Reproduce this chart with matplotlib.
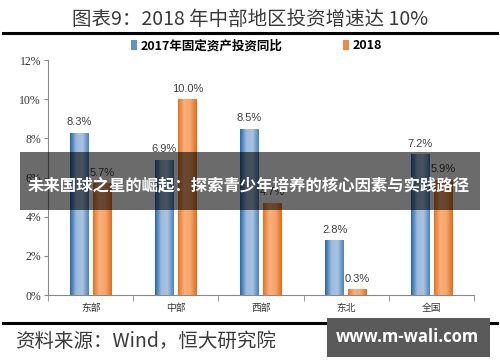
import numpy as np
import matplotlib
matplotlib.use("Agg")
import matplotlib.pyplot as plt
from matplotlib.patches import Rectangle
from matplotlib.colors import LinearSegmentedColormap
from matplotlib.lines import Line2D

plt.rcParams['font.family'] = ['Noto Sans CJK SC', 'DejaVu Sans']

categories = ["东部", "中部", "西部", "东北", "全国"]
growth_2017 = [8.3, 6.9, 8.5, 2.8, 7.2]
growth_2018 = [5.7, 10.0, 4.7, 0.3, 5.9]
series_names = ["2017年固定资产投资同比", "2018"]
yticks = [0, 2, 4, 6, 8, 10, 12]

title = "图表9：2018 年中部地区投资增速达 10%"
source = "资料来源：Wind，恒大研究院"
banner = "未来国球之星的崛起：探索青少年培养的核心因素与实践路径"
watermark = "www.m-wali.com"

blue_cmap = LinearSegmentedColormap.from_list("b", ["#2566b0", "#9dbbdc", "#a9c3df", "#4a82c0"])
orange_cmap = LinearSegmentedColormap.from_list("o", ["#e8731c", "#f8b07e", "#f6a46c", "#e26d1a"])

fig = plt.figure(figsize=(5, 3.62), dpi=100)
ax = fig.add_axes([0.096, 0.185, 0.852, 0.649])

x = np.arange(len(categories))
width = 0.22
grad = np.linspace(0, 1, 64).reshape(1, -1)


def gradient_bars(xpos, values, cmap, mid):
    bars = ax.bar(xpos, values, width, color=mid, zorder=2)
    for b in bars:
        x0, y0 = b.get_x(), b.get_y()
        im = ax.imshow(grad, cmap=cmap, aspect="auto", zorder=3,
                       extent=[x0, x0 + b.get_width(), y0, y0 + b.get_height()])
        im.set_clip_path(b)
    for xi, v in zip(xpos, values):
        ax.annotate(f"{v:.1f}%", (xi, v), xytext=(0, 4), textcoords="offset points",
                    ha="center", va="bottom", fontsize=8, color="#404040",
                    family=["Liberation Sans", "DejaVu Sans"])
    return bars


b1 = gradient_bars(x - 0.135, growth_2017, blue_cmap, "#5f92c9")
b2 = gradient_bars(x + 0.135, growth_2018, orange_cmap, "#ee8a45")

ax.set_xlim(-0.5, len(categories) - 0.5)
ax.set_ylim(0, 12)
ax.set_yticks(yticks)
ax.set_yticklabels([f"{t}%" for t in yticks], family=["Liberation Serif"], fontsize=8.5, color="#333333")
ax.set_xticks(x)
ax.set_xticklabels(categories, fontsize=7, color="#333333")
ax.set_xticks(np.arange(-0.5, len(categories)), minor=True)
ax.tick_params(axis="x", which="major", length=0, pad=6)
ax.tick_params(axis="x", which="minor", length=4, color="#888888", direction="out")
ax.tick_params(axis="y", length=3, color="#888888", pad=2)
for s in ["top", "right"]:
    ax.spines[s].set_visible(False)
for s in ["left", "bottom"]:
    ax.spines[s].set_color("#888888")
    ax.spines[s].set_linewidth(0.8)

ax.legend([b1, b2], series_names, ncol=2, frameon=False, loc="lower center",
          bbox_to_anchor=(0.49, 0.985), handlelength=0.5, handleheight=0.9,
          handletextpad=0.3, columnspacing=4.8,
          prop={"family": ["Noto Sans CJK SC"], "weight": "bold", "size": 9})

# title and rules
fig.text(0.5, 0.945, title, ha="center", va="center", fontsize=14, color="#3a3a3a")
fig.add_artist(Line2D([0.006, 0.994], [0.909, 0.909], color="black", lw=2.2, transform=fig.transFigure))
fig.add_artist(Line2D([0.006, 0.994], [0.108, 0.108], color="black", lw=2.2, transform=fig.transFigure))
fig.text(0.03, 0.058, source, ha="left", va="center", fontsize=14, color="#3a3a3a", style="italic")

# overlays
fig.add_artist(Rectangle((0.04, 0.42), 0.92, 0.16, transform=fig.transFigure,
                         facecolor="black", alpha=0.58, zorder=10))
fig.text(0.498, 0.488, banner, ha="center", va="center", fontsize=11.8, color="white",
         weight="bold", zorder=11)
fig.add_artist(Rectangle((0.654, 0.014), 0.326, 0.108, transform=fig.transFigure,
                         facecolor="#5a5a5a", zorder=10))
fig.text(0.815, 0.07, watermark, ha="center", va="center", fontsize=12, color="white",
         weight="bold", zorder=11, family=["Open Sans", "DejaVu Sans"])

fig.savefig("out.png", dpi=100)
